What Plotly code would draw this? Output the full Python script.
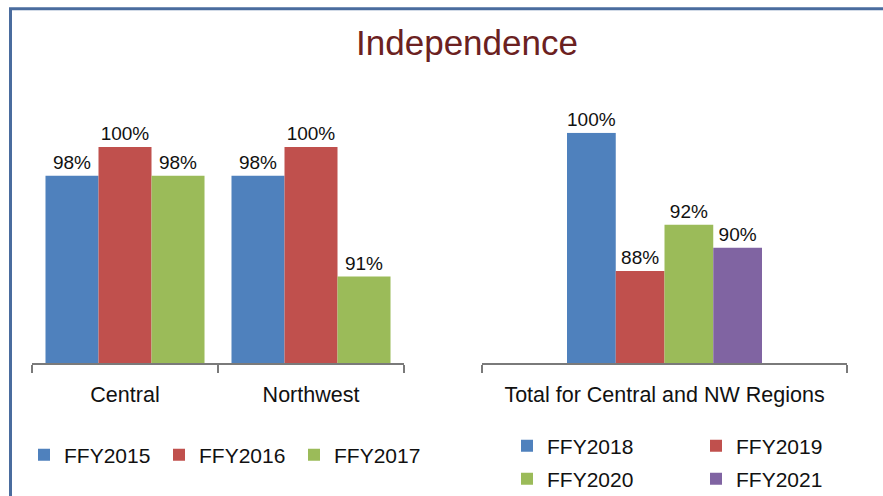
import plotly.graph_objects as go

# ---- data ----
left_categories = ["Central", "Northwest"]
left_series = ["FFY2015", "FFY2016", "FFY2017"]
left_values = {
    "FFY2015": [98, 98],
    "FFY2016": [100, 100],
    "FFY2017": [98, 91],
}

right_categories = ["Total for Central and NW Regions"]
right_series = ["FFY2018", "FFY2019", "FFY2020", "FFY2021"]
right_values = {
    "FFY2018": [100],
    "FFY2019": [88],
    "FFY2020": [92],
    "FFY2021": [90],
}

colors = {
    "FFY2015": "#4F81BD", "FFY2016": "#C0504D", "FFY2017": "#9BBB59",
    "FFY2018": "#4F81BD", "FFY2019": "#C0504D", "FFY2020": "#9BBB59", "FFY2021": "#8064A2",
}

OFF = 0  # body margin removed via post_script
W, H = 883, 496
FONT = "Liberation Sans, Arial, sans-serif"
AXIS_GRAY = "#7A7A7A"


def px(x):
    return (x - OFF) / W


def py(y):
    return 1 - (y - OFF) / H


fig = go.Figure()

for s in left_series:
    vals = left_values[s]
    fig.add_trace(go.Bar(
        x=left_categories, y=vals, name=s,
        marker=dict(color=colors[s], line=dict(width=0)),
        text=[f"{v}%" for v in vals], textposition="outside",
        textfont=dict(family=FONT, size=19, color="#111"),
        cliponaxis=False, constraintext="none",
        xaxis="x", yaxis="y", legend="legend",
    ))

n = len(right_series)
bw = 195 / 365 / n  # bar width in category units
for i, s in enumerate(right_series):
    vals = right_values[s]
    fig.add_trace(go.Bar(
        x=right_categories, y=vals, name=s,
        marker=dict(color=colors[s], line=dict(width=0)),
        width=bw, offset=-bw * n / 2 + i * bw,
        text=[f"{v}%" for v in vals], textposition="outside",
        textfont=dict(family=FONT, size=19, color="#111"),
        cliponaxis=False, constraintext="none",
        xaxis="x2", yaxis="y2",
        legend="legend2" if i < 2 else "legend3",
    ))

base_px = 363
xcommon = dict(
    showline=True, linecolor=AXIS_GRAY, linewidth=2,
    ticks="outside", ticklen=8, tickwidth=2, tickcolor=AXIS_GRAY,
    tickson="boundaries", showgrid=False, zeroline=False,
    tickfont=dict(family=FONT, size=21.5, color="#111"),
    ticklabelstandoff=11,
    tickangle=0, automargin=False, fixedrange=True,
)

legend_common = dict(
    orientation="h", font=dict(family=FONT, size=21, color="#111"),
    bgcolor="rgba(0,0,0,0)", borderwidth=0, xanchor="left", yanchor="middle",
    itemclick=False, tracegroupgap=0,
)

fig.update_layout(
    width=W, height=H,
    margin=dict(l=0, r=0, t=0, b=0, autoexpand=False),
    paper_bgcolor="white", plot_bgcolor="white",
    barmode="group", bargap=0.145, bargroupgap=0,
    hovermode=False,
    title=dict(text="Independence", x=px(467), xanchor="center",
               y=py(43), yanchor="middle",
               font=dict(family=FONT, size=35, color="#6B2121")),
    xaxis=dict(domain=[px(32), px(404)], **xcommon),
    xaxis2=dict(domain=[px(482), px(847)], anchor="y2", **xcommon),
    yaxis=dict(domain=[py(base_px), py(146.9)], range=[85, 100], visible=False, fixedrange=True),
    yaxis2=dict(domain=[py(base_px), py(132.7)], range=[80, 100], visible=False,
                anchor="x2", fixedrange=True),
    legend=dict(x=px(24), y=py(455), entrywidth=90, **legend_common),
    legend2=dict(x=px(507), y=py(446), entrywidth=144, **legend_common),
    legend3=dict(x=px(507), y=py(479), entrywidth=144, **legend_common),
    showlegend=True,
    shapes=[dict(type="rect", xref="paper", yref="paper",
                 x0=px(10.5), y0=py(8.7), x1=1.05, y1=-0.05,
                 line=dict(color="#4A6C9E", width=3), fillcolor="rgba(0,0,0,0)")],
)

fig.write_html(
    "out.html",
    config={"displayModeBar": False},
    post_script="document.body.style.margin='0';document.body.style.overflow='hidden';",
)
